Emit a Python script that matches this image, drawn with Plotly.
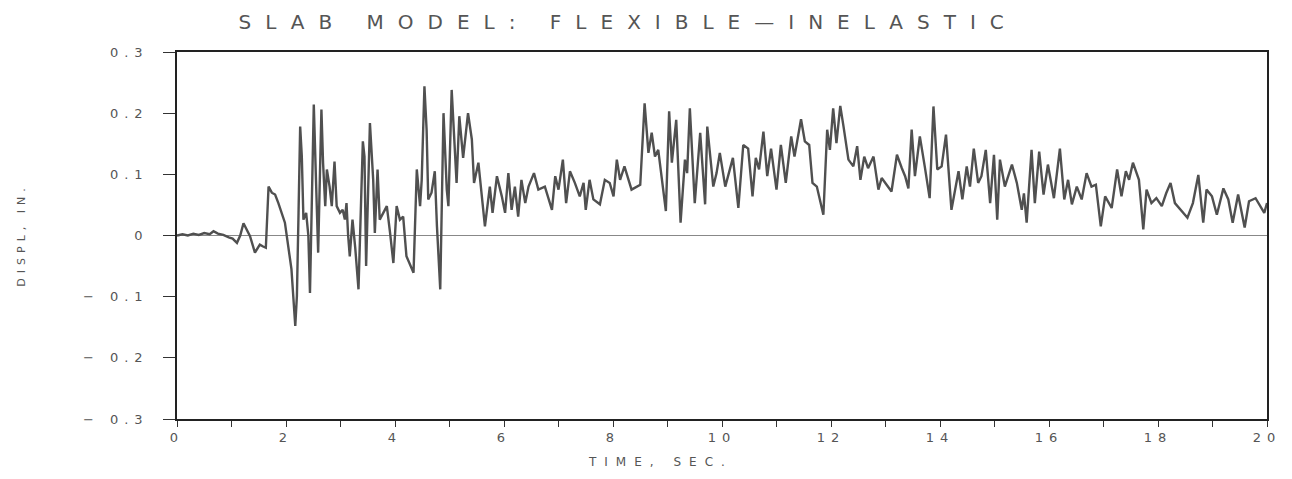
import plotly.graph_objects as go

# ---- data (time in s, displacement in inches) ----
t_early = [0.00,0.10,0.20,0.30,0.40,0.50,0.60,0.67,0.75,0.85,0.95,1.02,1.10,1.16,1.22,1.28,1.34,1.43,1.52,1.58,1.63]
d_early = [0,0.002,0.000,0.003,0.001,0.004,0.002,0.007,0.003,0.001,-0.003,-0.005,-0.012,0.000,0.020,0.008,-0.001,-0.028,-0.015,-0.018,-0.020]

t_strong = [1.68,1.74,1.80,1.86,1.98,2.10,2.17,2.20,2.23,2.26,2.29,2.32,2.37,2.41,2.44,2.47,2.51,2.55,2.59,2.65,
            2.68,2.72,2.75,2.80,2.84,2.89,2.93,2.99,3.04,3.08,3.11,3.14,3.17,3.22,3.27,3.33,3.41,3.44,3.47,3.54,
            3.60,3.63,3.68,3.72,3.85,3.91,3.97,4.03,4.09,4.15,4.21,4.34,4.40,4.46,4.49,4.54,4.58,4.61,4.67,4.73,
            4.77,4.83,4.89,4.95,4.98,5.04,5.10,5.13,5.18,5.25,5.34,5.41,5.45,5.53,5.65,5.74,5.79,5.87]
d_strong = [0.080,0.070,0.067,0.053,0.021,-0.055,-0.148,-0.099,0.037,0.178,0.129,0.026,0.037,0.000,-0.094,0.037,0.214,0.091,-0.028,0.206,
            0.119,0.048,0.108,0.080,0.048,0.121,0.048,0.037,0.042,0.026,0.053,0.000,-0.034,0.026,-0.020,-0.088,0.154,0.129,-0.050,0.184,
            0.091,0.004,0.108,0.026,0.048,0.004,-0.045,0.048,0.026,0.031,-0.034,-0.061,0.108,0.048,0.091,0.244,0.173,0.059,0.070,0.105,
            0.015,-0.088,0.200,0.075,0.048,0.238,0.124,0.086,0.195,0.127,0.200,0.157,0.086,0.119,0.015,0.080,0.037,0.097]

t_mid = [5.96,6.02,6.08,6.14,6.20,6.26,6.32,6.39,6.45,6.55,6.63,6.75,6.88,6.94,7.00,7.08,7.14,7.21,7.30,7.39,
         7.46,7.50,7.57,7.64,7.76,7.85,7.94,8.01,8.07,8.13,8.21,8.34,8.50,8.58,8.65,8.71,8.77,8.83,8.97,9.03,
         9.08,9.16,9.24,9.32,9.36,9.41,9.50,9.60,9.69,9.73,9.84,9.90,9.96,10.06,10.20,10.30]
d_mid = [0.064,0.037,0.102,0.042,0.080,0.031,0.091,0.053,0.080,0.102,0.075,0.080,0.042,0.097,0.075,0.124,0.053,0.105,0.086,0.064,
         0.086,0.042,0.091,0.059,0.051,0.091,0.086,0.064,0.124,0.091,0.113,0.075,0.083,0.216,0.135,0.168,0.129,0.140,0.040,0.203,
         0.119,0.189,0.021,0.124,0.102,0.208,0.053,0.168,0.051,0.178,0.080,0.102,0.135,0.080,0.127,0.045]

t_late = [10.39,10.48,10.56,10.62,10.68,10.76,10.83,10.90,11.00,11.08,11.17,11.27,11.33,11.45,11.52,11.60,11.66,11.74,11.86,11.93,
          11.98,12.04,12.10,12.17,12.23,12.32,12.41,12.48,12.54,12.61,12.68,12.78,12.87,12.93,13.11,13.21,13.30,13.36,13.42,13.48,
          13.54,13.63,13.72,13.81,13.88,13.95,14.03,14.11,14.21,14.34,14.41,14.49,14.55,14.62,14.70,14.76,14.84,14.92,14.99,15.05]
d_late = [0.148,0.142,0.064,0.127,0.108,0.170,0.097,0.142,0.075,0.148,0.086,0.162,0.129,0.190,0.154,0.148,0.086,0.080,0.034,0.173,
          0.140,0.208,0.151,0.212,0.178,0.124,0.113,0.146,0.091,0.129,0.110,0.129,0.075,0.094,0.072,0.132,0.110,0.097,0.077,0.173,
          0.097,0.162,0.113,0.061,0.211,0.108,0.113,0.165,0.042,0.105,0.059,0.113,0.080,0.142,0.086,0.097,0.140,0.053,0.132,0.026]

t_end = [15.10,15.19,15.32,15.41,15.50,15.54,15.59,15.68,15.74,15.82,15.90,15.98,16.09,16.20,16.28,16.35,16.42,16.51,16.60,16.69,
         16.78,16.86,16.95,17.03,17.15,17.25,17.33,17.41,17.47,17.54,17.65,17.73,17.79,17.88,17.97,18.07,18.15,18.23,18.31,18.43,
         18.54,18.64,18.74,18.83,18.89,18.99,19.08,19.20,19.29,19.37,19.47,19.59,19.67,19.79,19.95,20.00]
d_end = [0.124,0.080,0.116,0.086,0.042,0.069,0.021,0.140,0.053,0.137,0.067,0.116,0.061,0.142,0.059,0.091,0.051,0.080,0.059,0.102,
         0.080,0.083,0.015,0.064,0.045,0.108,0.064,0.105,0.091,0.119,0.091,0.010,0.075,0.053,0.061,0.048,0.069,0.086,0.053,0.040,
         0.029,0.053,0.099,0.021,0.075,0.064,0.034,0.077,0.059,0.021,0.067,0.013,0.056,0.061,0.037,0.053]

x_tick_vals = [0, 2, 4, 6, 8, 10, 12, 14, 16, 18, 20]
x_tick_text = ["0", "2", "4", "6", "8", "10", "12", "14", "16", "18", "20"]
y_tick_vals = [0.3, 0.2, 0.1, 0, -0.1, -0.2, -0.3]
y_tick_text = ["0.3", "0.2", "0.1", "0", "\u2212 0.1", "\u2212 0.2", "\u2212 0.3"]

title_text = "SLAB MODEL: FLEXIBLE\u2014INELASTIC"
x_title = "TIME, SEC."
y_title = "DISPL, IN."

def spaced(s, px):
    return '<span style="letter-spacing:%dpx">%s</span>' % (px, s)

time_s = t_early + t_strong + t_mid + t_late + t_end
displ = d_early + d_strong + d_mid + d_late + d_end

fig = go.Figure()
fig.add_trace(go.Scatter(x=time_s, y=displ, mode="lines",
                         line=dict(color="#505050", width=2.4), showlegend=False))

fig.update_layout(
    width=1292, height=479,
    margin=dict(l=169, r=33, t=44, b=68),
    paper_bgcolor="white", plot_bgcolor="white",
    font=dict(family="DejaVu Sans", color="#444"),
    title=dict(text=spaced(title_text, 14), x=0.480, xanchor="center",
               y=0.970, yanchor="middle",
               font=dict(size=20, color="#555", family="DejaVu Sans")),
    xaxis=dict(range=[0, 20], tickvals=x_tick_vals,
               ticktext=[spaced(s, 6) for s in x_tick_text],
               ticks="outside", ticklen=6, tickcolor="#333",
               minor=dict(dtick=1, ticks="outside", ticklen=6, tickcolor="#333"),
               showline=True, linecolor="#222", linewidth=1.5, mirror=True,
               showgrid=False, zeroline=False,
               tickfont=dict(size=13, color="#555")),
    yaxis=dict(range=[-0.3, 0.3], tickvals=y_tick_vals,
               ticktext=[spaced(s, 6) for s in y_tick_text],
               ticks="outside", ticklen=12, tickcolor="#333",
               ticklabelstandoff=12,
               showline=True, linecolor="#222", linewidth=1.5, mirror=True,
               showgrid=False, zeroline=True, zerolinecolor="#888", zerolinewidth=1.2,
               tickfont=dict(size=13, color="#555")),
    annotations=[
        dict(text=spaced(x_title, 8), xref="paper", yref="paper",
             x=0.444, y=-0.117, xanchor="center", yanchor="middle",
             showarrow=False, font=dict(size=12, color="#555")),
        dict(text=spaced(y_title, 5), xref="paper", yref="paper",
             x=-0.143, y=0.5, xanchor="center", yanchor="middle", textangle=-90,
             showarrow=False, font=dict(size=11, color="#555")),
    ],
)

fig.write_html("out.html")
